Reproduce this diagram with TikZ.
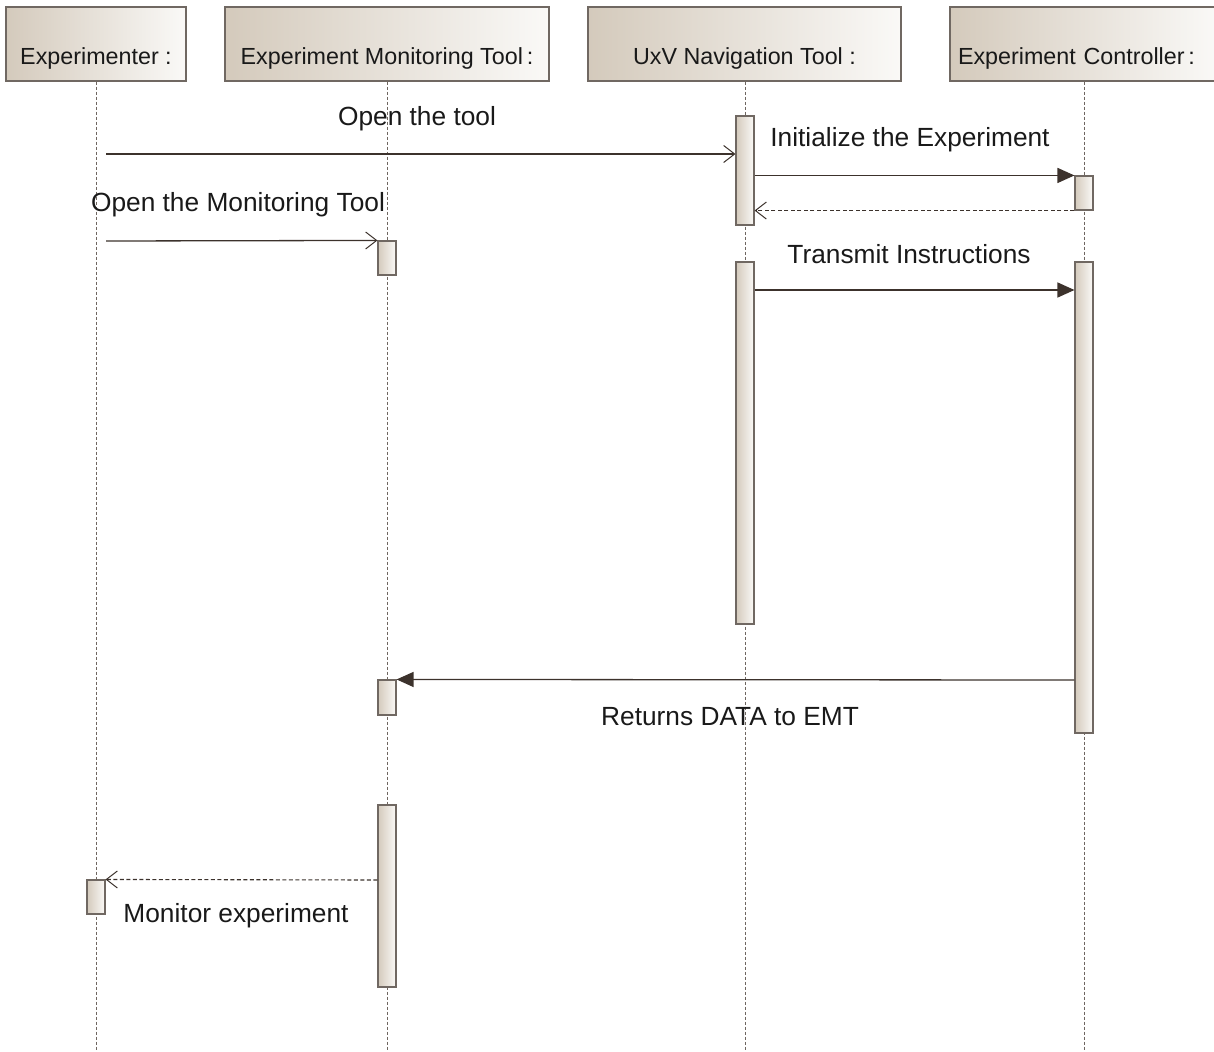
\documentclass[tikz,border=0pt]{standalone}
\usepackage{fontspec}
\setmainfont{Liberation Sans}
\usetikzlibrary{arrows.meta}
\definecolor{tanL}{RGB}{212,202,188}
\definecolor{paleR}{RGB}{250,249,247}
\definecolor{boxline}{RGB}{112,104,98}
\definecolor{lifeln}{RGB}{110,102,96}
\definecolor{msgln}{RGB}{60,50,44}
\definecolor{txt}{RGB}{25,25,25}
\begin{document}
\begin{tikzpicture}[x=1pt,y=-1pt,
  head/.style={draw=boxline, line width=1.3pt, left color=tanL, right color=paleR,
    minimum height=74pt, inner xsep=0pt, inner ysep=0pt, text height=58pt, text depth=16pt,
    font=\fontsize{23.3}{26}\selectfont, text=txt},
  bar/.style={draw=boxline, line width=1.1pt, left color=tanL, right color=paleR,
    minimum width=18pt, inner sep=0pt},
  life/.style={draw=lifeln, line width=0.8pt, dash pattern=on 3pt off 2pt},
  call/.style={draw=msgln, line width=1.3pt, -{Straight Barb[length=11pt,width=17pt,line width=1pt]}},
  sync/.style={draw=msgln, line width=1.3pt, -{Triangle[length=17pt,width=15pt]}},
  reply/.style={draw=msgln, line width=1.1pt, dash pattern=on 4pt off 2.5pt,
    -{Straight Barb[length=11pt,width=17pt,line width=1pt]}},
  msgtext/.style={font=\fontsize{26.3}{29}\selectfont, text=txt, inner sep=0pt}
]
\useasboundingbox (0,0) rectangle (1214,1051);
\clip (0,0) rectangle (1214,1051);

% lifeline heads
\node[head, minimum width=180pt] (hExp) at (96,44) {Experimenter :};
\node[head, minimum width=324pt] (hEmt) at (387,44) {Experiment Monitoring Tool\,:};
\node[head, minimum width=313pt] (hUxv) at (744.5,44) {UxV Navigation Tool :};
\node[head, minimum width=268pt, text width=268pt, align=left] (hCtl) at (1084,44) {\hspace*{8pt}Experiment Controller\,:};

% lifeline ends
\coordinate (eExp) at (96,1051);
\coordinate (eEmt) at (387,1051);
\coordinate (eUxv) at (745,1051);
\coordinate (eCtl) at (1084,1051);

\draw[life] (hExp.south) -- (eExp);
\draw[life] (hEmt.south) -- (eEmt);
\draw[life] (hUxv.south -| eUxv) -- (eUxv);
\draw[life] (hCtl.south) -- (eCtl);

% activation bars
\node[bar, minimum height=109pt] (u1) at (745,170.5) {};
\node[bar, minimum height=362pt] (u2) at (745,443) {};
\node[bar, minimum height=34pt] (c1) at (1084,193) {};
\node[bar, minimum height=471pt] (c2) at (1084,497.5) {};
\node[bar, minimum height=34pt] (e1) at (387,258) {};
\node[bar, minimum height=35pt] (e2) at (387,697.5) {};
\node[bar, minimum height=182pt] (e3) at (387,896) {};
\node[bar, minimum height=34pt] (x1) at (96,897) {};

% message origins
\coordinate (m1) at (106,154);
\coordinate (m4) at (106,241);
\coordinate (m5) at (754,290);
\coordinate (m6) at (1075,680);
\coordinate (m7) at (378,880);

% messages
\draw[call] (m1) -- (u1.west |- m1);
\draw[sync] (u1.east |- c1.north west) -- (c1.north west);
\draw[reply] (c1.south west) -- (u1.east |- c1.south west);
\draw[call] (m4) -- (e1.north west);
\draw[sync] (u2.east |- m5) -- (c2.west |- m5);
\draw[sync] (c2.west |- m6) -- (e2.north east);
\draw[reply] (e3.west |- m7) -- (x1.north east);

% message labels
\node[msgtext] (t1) at (417,119) {Open the tool};
\node[msgtext] (t2) at (910,140) {Initialize the Experiment};
\node[msgtext] (t4) at (238,205) {Open the Monitoring Tool};
\node[msgtext] (t5) at (909,254) {Transmit Instructions};
\node[msgtext] (t6) at (730,717) {Returns DATA to EMT};
\node[msgtext] (t7) at (236,916) {Monitor experiment};
\end{tikzpicture}
\end{document}
